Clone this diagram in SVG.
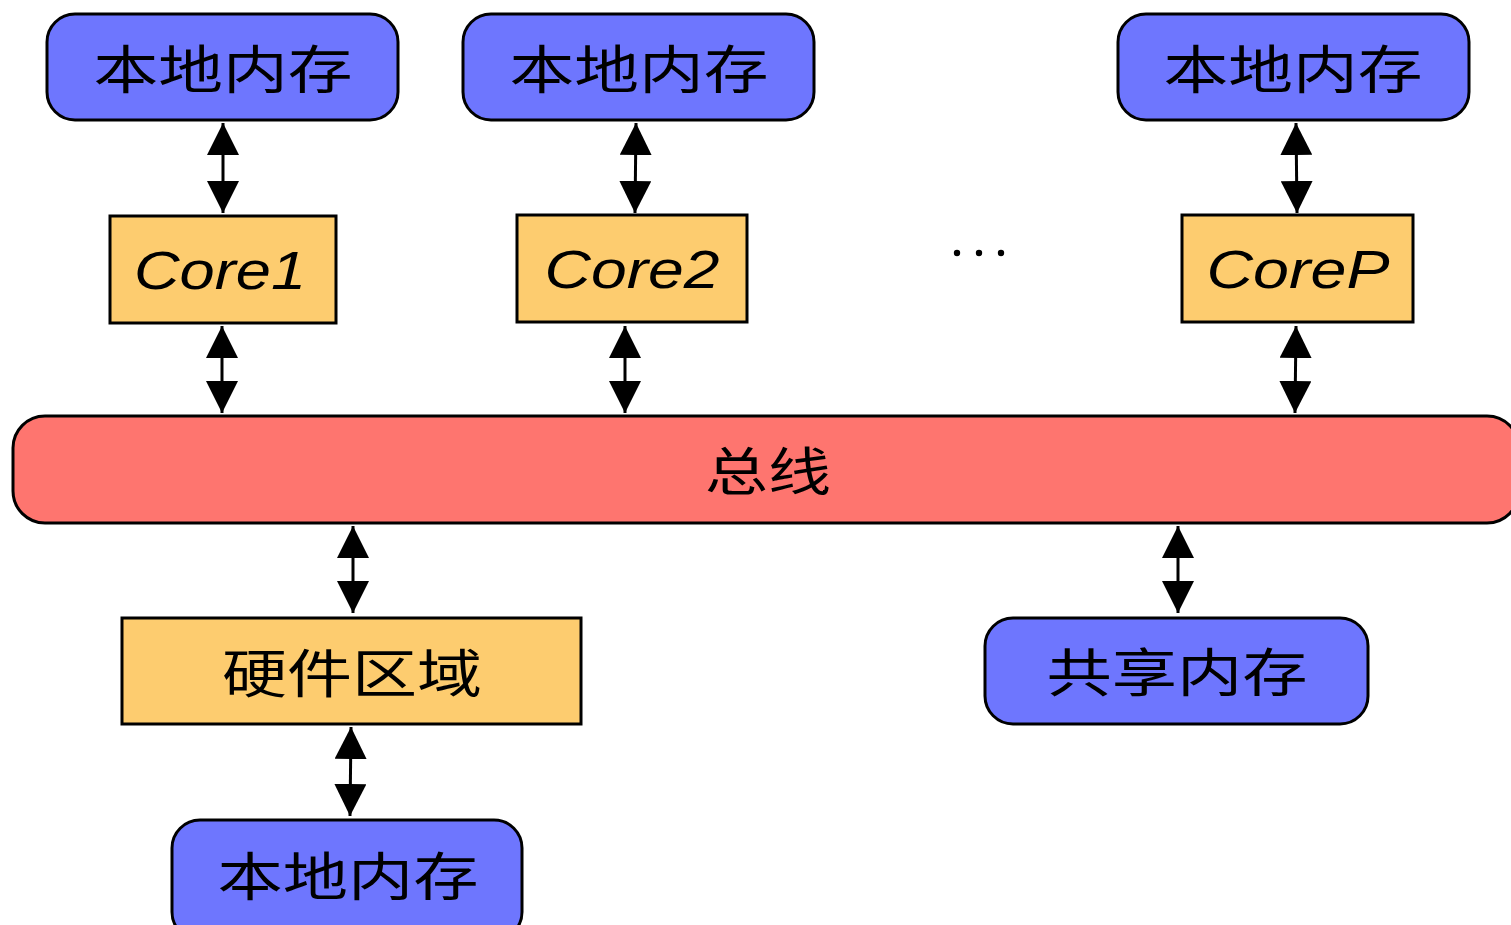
<svg xmlns="http://www.w3.org/2000/svg" width="1511" height="925" viewBox="0 0 1511 925">
<style>
.mem{fill:#6e76fe;stroke:#000;stroke-width:3}
.core{fill:#fdcc6f;stroke:#000;stroke-width:3}
.bus{fill:#fe756f;stroke:#000;stroke-width:3}
.cjk{font-family:"Noto Sans CJK SC","Noto Sans",sans-serif;font-size:52px;fill:#000;dominant-baseline:central;text-anchor:middle}
.lat{font-family:"Liberation Sans",Arial,sans-serif;font-style:italic;font-size:54px;fill:#000;dominant-baseline:central;text-anchor:middle}
.conn{stroke:#000;stroke-width:3;fill:none;marker-start:url(#ah);marker-end:url(#ah)}
</style>
<defs>
<marker id="ah" markerUnits="userSpaceOnUse" markerWidth="32" markerHeight="32" viewBox="0 0 30 30" refX="30" refY="15" orient="auto-start-reverse">
<path d="M0,0 L30,15 L0,30 Z" fill="#000"/>
</marker>
</defs>
<rect width="1511" height="925" fill="#fff"/>
<g id="connectors">
<line class="conn" x1="223" y1="123" x2="223" y2="213"/>
<line class="conn" x1="636" y1="123" x2="635" y2="213"/>
<line class="conn" x1="1296" y1="123" x2="1297" y2="213"/>
<line class="conn" x1="222" y1="326" x2="222" y2="413"/>
<line class="conn" x1="625" y1="326" x2="625" y2="413"/>
<line class="conn" x1="1296" y1="326" x2="1295" y2="413"/>
<line class="conn" x1="353" y1="526" x2="353" y2="613"/>
<line class="conn" x1="1178" y1="526" x2="1178" y2="613"/>
<line class="conn" x1="351" y1="727" x2="350" y2="816"/>
</g>
<g id="mem1"><rect class="mem" x="47" y="14" width="351" height="106" rx="28"/><text class="cjk" x="223" y="66" textLength="259" lengthAdjust="spacingAndGlyphs">本地内存</text></g>
<g id="mem2"><rect class="mem" x="463" y="14" width="351" height="106" rx="28"/><text class="cjk" x="639" y="66" textLength="259" lengthAdjust="spacingAndGlyphs">本地内存</text></g>
<g id="mem3"><rect class="mem" x="1118" y="14" width="351" height="106" rx="28"/><text class="cjk" x="1293" y="66" textLength="259" lengthAdjust="spacingAndGlyphs">本地内存</text></g>
<g id="core1"><rect class="core" x="110" y="216" width="226" height="107"/><text class="lat" x="220" y="270" textLength="172" lengthAdjust="spacingAndGlyphs">Core1</text></g>
<g id="core2"><rect class="core" x="517" y="215" width="230" height="107"/><text class="lat" x="632" y="269" textLength="175" lengthAdjust="spacingAndGlyphs">Core2</text></g>
<g id="dots"><circle cx="957" cy="253" r="3.2"/><circle cx="979" cy="253" r="3.2"/><circle cx="1001" cy="253" r="3.2"/></g>
<g id="coreP"><rect class="core" x="1182" y="215" width="231" height="107"/><text class="lat" x="1298" y="269" textLength="183" lengthAdjust="spacingAndGlyphs">CoreP</text></g>
<g id="bus"><rect class="bus" x="13" y="416" width="1506" height="107" rx="32"/><text class="cjk" x="768" y="468" textLength="126" lengthAdjust="spacingAndGlyphs">总线</text></g>
<g id="hw"><rect class="core" x="122" y="618" width="459" height="106"/><text class="cjk" x="352" y="670" textLength="260" lengthAdjust="spacingAndGlyphs">硬件区域</text></g>
<g id="shared"><rect class="mem" x="985" y="618" width="383" height="106" rx="28"/><text class="cjk" x="1177" y="669" textLength="261" lengthAdjust="spacingAndGlyphs">共享内存</text></g>
<g id="mem4"><rect class="mem" x="172" y="820" width="350" height="120" rx="28"/><text class="cjk" x="348" y="873" textLength="261" lengthAdjust="spacingAndGlyphs">本地内存</text></g>
</svg>
